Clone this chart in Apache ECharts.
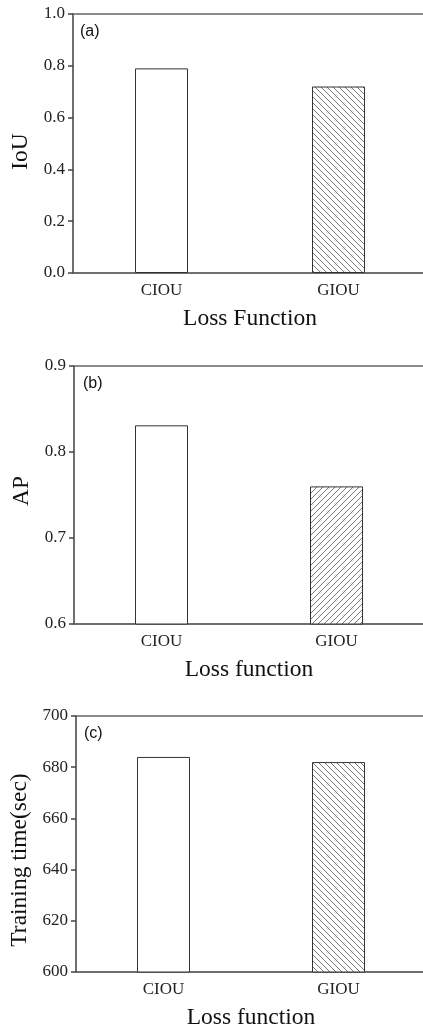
<!DOCTYPE html>
<html><head><meta charset="utf-8">
<script src="https://cdn.jsdelivr.net/npm/echarts@6/dist/echarts.min.js"></script>
<style>html,body{margin:0;padding:0;background:#fff}#c{width:423px;height:1031px}</style>
</head><body><div id="c"></div>
<script>
const categories = ['CIOU', 'GIOU'];
const iouValues = [0.79, 0.72];
const apValues = [0.831, 0.76];
const timeValues = [684, 682];
const panelLabels = ['(a)', '(b)', '(c)'];
const yNames = ['IoU', 'AP', 'Training time(sec)'];
const xNames = ['Loss Function', 'Loss function', 'Loss function'];

function hatch(dir) {
  const s = 6, cv = document.createElement('canvas');
  cv.width = s; cv.height = s;
  const g = cv.getContext('2d');
  g.fillStyle = '#fff'; g.fillRect(0, 0, s, s);
  g.strokeStyle = '#777'; g.lineWidth = 1;
  g.beginPath();
  if (dir === 'back') {
    g.moveTo(-1, -1); g.lineTo(s + 1, s + 1);
    g.moveTo(-1, s - 1); g.lineTo(1, s + 1);
    g.moveTo(s - 1, -1); g.lineTo(s + 1, 1);
  } else {
    g.moveTo(-1, s + 1); g.lineTo(s + 1, -1);
    g.moveTo(-1, 1); g.lineTo(1, -1);
    g.moveTo(s - 1, s + 1); g.lineTo(s + 1, s - 1);
  }
  g.stroke();
  return cv;
}

const serif = '"Liberation Serif","Times New Roman",serif';
const grids = [
  {left: 73, top: 14, width: 354, height: 259},
  {left: 74, top: 366, width: 350, height: 258},
  {left: 76, top: 716, width: 350, height: 256}
];
const yCfg = [
  {min: 0, max: 1, interval: 0.2, fmt: v => v.toFixed(1), gap: 40, pad: [0, 16, 0, 0]},
  {min: 0.6, max: 0.9, interval: 0.1, fmt: v => v.toFixed(1), gap: 40, pad: [0, 0, 0, 8]},
  {min: 600, max: 700, interval: 20, fmt: v => String(Math.round(v)), gap: 40, pad: [0, 32, 0, 0]}
];
const datas = [iouValues, apValues, timeValues];
const hatchDirs = ['back', 'fwd', 'back'];

const option = {
  animation: false,
  backgroundColor: '#fff',
  grid: grids.map(g => Object.assign({show: true, borderColor: '#666', borderWidth: 1.5, backgroundColor: 'transparent', outerBoundsMode: 'none', containLabel: false}, g)),
  graphic: panelLabels.map((t, i) => ({
    type: 'text', left: [80, 83, 84][i], top: [24, 376, 726][i],
    style: {text: t, fontSize: 16, fontFamily: '"Liberation Sans",Arial,sans-serif', fill: '#111'}
  })),
  xAxis: grids.map((g, i) => ({
    type: 'category', gridIndex: i, data: categories,
    name: xNames[i], nameLocation: 'middle', nameGap: 34,
    nameTextStyle: {fontFamily: serif, fontSize: 23.5, color: '#111'},
    axisLine: {lineStyle: {color: '#666', width: 1.5}},
    axisTick: {alignWithLabel: true, length: 5, lineStyle: {color: '#444', width: 1.5}},
    axisLabel: {fontFamily: serif, fontSize: 17, color: '#222', margin: 9}
  })),
  yAxis: yCfg.map((c, i) => ({
    type: 'value', gridIndex: i, min: c.min, max: c.max, interval: c.interval,
    name: yNames[i], nameLocation: 'middle', nameGap: c.gap,
    nameTextStyle: {fontFamily: serif, fontSize: 23.5, color: '#111', padding: c.pad},
    axisLine: {show: true, lineStyle: {color: '#666', width: 1.5}},
    axisTick: {show: true, length: 5, lineStyle: {color: '#444', width: 1.5}},
    splitLine: {show: false},
    axisLabel: {fontFamily: serif, fontSize: 17, color: '#222', margin: 8, formatter: c.fmt}
  })),
  series: datas.map((d, i) => ({
    type: 'bar', xAxisIndex: i, yAxisIndex: i, barWidth: 53,
    data: d.map((v, j) => ({
      value: v,
      itemStyle: {
        color: j === 0 ? '#fff' : {image: hatch(hatchDirs[i]), repeat: 'repeat'},
        borderColor: '#333', borderWidth: 1
      }
    }))
  }))
};
const chart = echarts.init(document.getElementById('c'), null, {renderer: 'canvas'});
chart.setOption(option);
</script></body></html>
